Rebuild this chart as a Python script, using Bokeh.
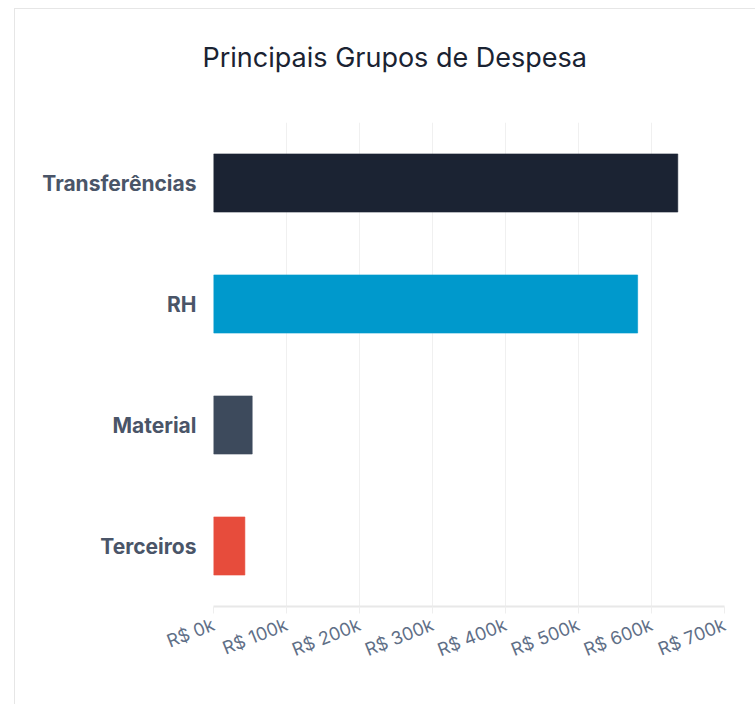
from bokeh.plotting import figure
from bokeh.models import CustomJSTickFormatter, FixedTicker, Range1d, ColumnDataSource, Title
from bokeh.embed import file_html
from bokeh.resources import INLINE

title_text = "Principais Grupos de Despesa"
categories = ["Transferências", "RH", "Material", "Terceiros"]
values = [636000, 581000, 53000, 43000]
colors = ["#1b2333", "#0099cc", "#3d4a5c", "#e74c3c"]
ticks = [0, 100000, 200000, 300000, 400000, 500000, 600000, 700000]

src = ColumnDataSource(dict(cat=categories, val=values, color=colors))

p = figure(y_range=list(reversed(categories)), x_range=Range1d(0, 700000),
           width=741, height=696, output_backend="svg", toolbar_location=None,
           min_border_left=198, min_border_right=32, min_border_top=113, min_border_bottom=99)
p.margin = (8, 0, 0, 14)
p.styles = {"border-left": "1px solid #e6e6e6", "border-top": "1px solid #e6e6e6"}

p.hbar(y="cat", right="val", left=0, height=0.48, fill_color="color",
       line_color="color", line_alpha=0.6, line_width=1, source=src)

# spacer panel nearest the frame, then the real title above it
spacer = Title(text=" ", text_font_size="1px", standoff=41)
p.add_layout(spacer, "above")
title = Title(text=title_text, align="left", offset=-11, text_font="Inter",
              text_font_size="27px", text_font_style="normal", text_color="#1a2332",
              standoff=10)
p.add_layout(title, "above")

p.outline_line_color = None
p.background_fill_color = "white"
p.border_fill_color = "white"

p.xaxis.ticker = FixedTicker(ticks=ticks)
p.xaxis.formatter = CustomJSTickFormatter(code="return 'R$ ' + (tick/1000).toFixed(0) + 'k';")
p.xaxis.major_label_orientation = 0.38
p.xaxis.major_label_text_font = "Inter"
p.xaxis.major_label_text_font_size = "18px"
p.xaxis.major_label_text_color = "#5f6f87"
p.xaxis.major_label_standoff = 10
p.xaxis.axis_line_color = "#e8e8e8"
p.xaxis.axis_line_width = 2
p.xaxis.major_tick_line_color = "#eeeeee"
p.xaxis.major_tick_out = 7
p.xaxis.major_tick_in = 0
p.xaxis.minor_tick_line_color = None

p.yaxis.axis_line_color = None
p.yaxis.major_tick_line_color = None
p.yaxis.minor_tick_line_color = None
p.yaxis.major_label_text_font = "Inter"
p.yaxis.major_label_text_font_size = "21px"
p.yaxis.major_label_text_font_style = "bold"
p.yaxis.major_label_text_color = "#4a5568"
p.yaxis.major_label_standoff = 11

p.xgrid.grid_line_color = "#f0f0f0"
p.xgrid.grid_line_width = 1
p.ygrid.grid_line_color = None

open("out.html", "w").write(file_html(p, INLINE))
